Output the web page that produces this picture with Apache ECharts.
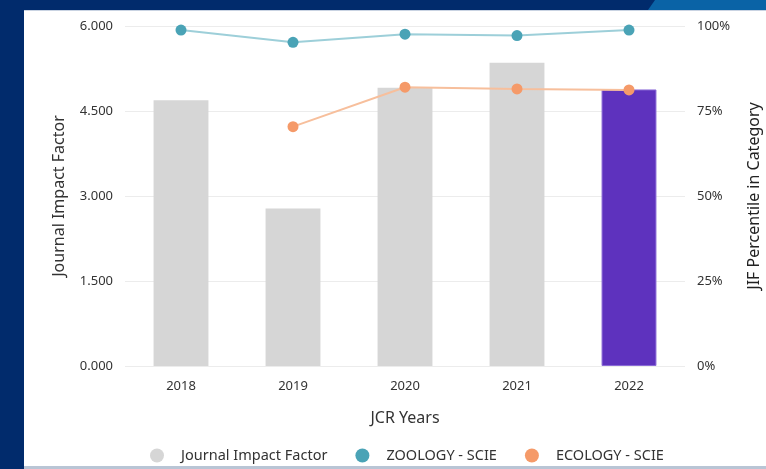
<!DOCTYPE html>
<html>
<head>
<meta charset="utf-8">
<script src="https://cdn.jsdelivr.net/npm/echarts@6/dist/echarts.min.js"></script>
<style>
html,body{margin:0;padding:0;background:#fff;}
#chart{width:766px;height:469px;}
</style>
</head>
<body>
<div id="chart"></div>
<script>
const categories = ['2018', '2019', '2020', '2021', '2022'];
const jifValues = [4.69, 2.78, 4.91, 5.35, 4.88];
const zoologyPct = [98.8, 95.2, 97.6, 97.2, 98.8];
const ecologyPct = [null, 70.4, 82.0, 81.5, 81.2];
const leftTicks = ['0.000', '1.500', '3.000', '4.500', '6.000'];
const rightTicks = ['0%', '25%', '50%', '75%', '100%'];
const highlightIndex = 4;

const FONT = '"Noto Sans", "Open Sans", sans-serif';
const chart = echarts.init(document.getElementById('chart'), null, {renderer: 'canvas'});

const option = {
  backgroundColor: '#ffffff',
  textStyle: {fontFamily: FONT},
  graphic: [
    {type: 'rect', left: 0, top: 0, shape: {width: 766, height: 10}, style: {fill: '#012b6c'}, z: 100},
    {type: 'polygon', shape: {points: [[655, 0], [766, 0], [766, 10], [648, 10]]}, style: {fill: '#0a63a6'}, z: 101},
    {type: 'rect', left: 0, top: 0, shape: {width: 24, height: 469}, style: {fill: '#012b6c'}, z: 102},
    {type: 'rect', left: 24, top: 10, shape: {width: 742, height: 1}, style: {fill: '#c9d3e2'}, z: 100},
    {type: 'rect', left: 24, top: 466, shape: {width: 742, height: 3}, style: {fill: '#b9c5d5'}, z: 100}
  ],
  grid: {left: 125, right: 81, top: 26, bottom: 103, outerBoundsMode: 'none', containLabel: false},
  legend: {
    left: 145, top: 443,
    icon: 'circle',
    itemWidth: 38, itemHeight: 14,
    itemGap: 28,
    textStyle: {fontSize: 14.5, color: '#333', fontFamily: FONT},
    data: [
      {name: 'Journal Impact Factor', itemStyle: {color: '#d6d6d6'}},
      {name: 'ZOOLOGY - SCIE'},
      {name: 'ECOLOGY - SCIE'}
    ]
  },
  xAxis: {
    type: 'category',
    data: categories,
    name: 'JCR Years',
    nameLocation: 'middle',
    nameGap: 44,
    nameTextStyle: {fontSize: 16, color: '#333'},
    axisLine: {show: false},
    axisTick: {show: false},
    axisLabel: {fontSize: 13, color: '#333', margin: 14}
  },
  yAxis: [
    {
      type: 'value', min: 0, max: 6, interval: 1.5,
      name: 'Journal Impact Factor',
      nameLocation: 'middle', nameGap: 58, nameRotate: 90,
      nameTextStyle: {fontSize: 16, color: '#333'},
      axisLine: {show: false}, axisTick: {show: false},
      axisLabel: {fontSize: 13, color: '#333', margin: 12,
        formatter: (v) => leftTicks[Math.round(v / 1.5)]},
      splitLine: {lineStyle: {color: '#ececec', width: 1}}
    },
    {
      type: 'value', min: 0, max: 100, interval: 25,
      name: 'JIF Percentile in Category',
      nameLocation: 'middle', nameGap: 61, nameRotate: 90,
      nameTextStyle: {fontSize: 16, color: '#222'},
      axisLine: {show: false}, axisTick: {show: false},
      axisLabel: {fontSize: 13, color: '#333', margin: 12,
        formatter: (v) => rightTicks[Math.round(v / 25)]},
      splitLine: {show: false}
    }
  ],
  series: [
    {
      name: 'Journal Impact Factor',
      type: 'bar',
      yAxisIndex: 0,
      barWidth: '49%',
      data: jifValues.map((v, i) => ({
        value: v,
        itemStyle: i === highlightIndex
          ? {color: '#5e32be', borderColor: '#8a6ad6', borderWidth: 1}
          : {color: '#d6d6d6'}
      })),
      itemStyle: {color: '#d6d6d6'},
      z: 1
    },
    {
      name: 'ZOOLOGY - SCIE',
      type: 'line',
      yAxisIndex: 1,
      data: zoologyPct,
      symbol: 'circle', symbolSize: 11,
      itemStyle: {color: '#4aa3b6'},
      lineStyle: {color: '#9dcfd9', width: 2},
      z: 3
    },
    {
      name: 'ECOLOGY - SCIE',
      type: 'line',
      yAxisIndex: 1,
      data: ecologyPct,
      symbol: 'circle', symbolSize: 11,
      itemStyle: {color: '#f59a69'},
      lineStyle: {color: '#f7bf9c', width: 2},
      z: 3
    }
  ]
};
chart.setOption(option);
</script>
</body>
</html>
